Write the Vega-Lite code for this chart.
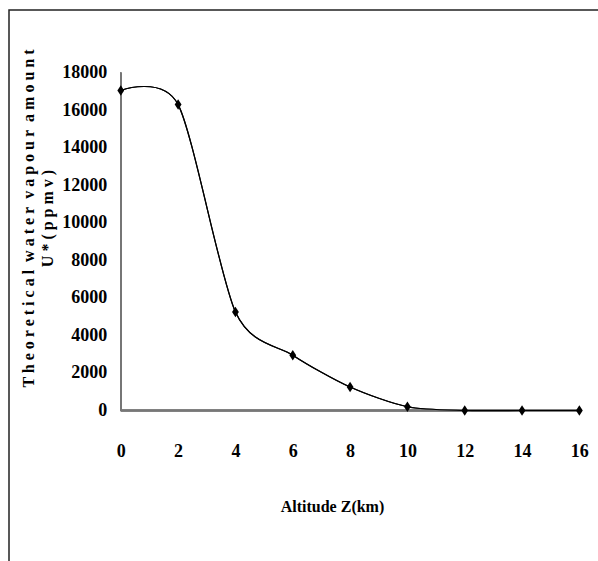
{
  "$schema": "https://vega.github.io/schema/vega-lite/v6.json",
  "width": 592,
  "height": 560,
  "autosize": {"type": "none"},
  "padding": {"left": 9, "top": 10, "right": 0, "bottom": 0},
  "background": "white",
  "data": {
    "values": [
      {"z": 0, "u": 17050},
      {"z": 2, "u": 16300},
      {"z": 4, "u": 5250},
      {"z": 6, "u": 2950},
      {"z": 8, "u": 1250},
      {"z": 10, "u": 200},
      {"z": 12, "u": 0},
      {"z": 14, "u": 0},
      {"z": 16, "u": 0}
    ]
  },
  "layer": [
    {
      "mark": {"type": "line", "interpolate": "cardinal", "tension": 0.2, "color": "black", "strokeWidth": 1.2},
      "encoding": {
        "x": {
          "field": "z", "type": "quantitative",
          "scale": {"domain": [-3.901, 16.755], "nice": false, "zero": false},
          "axis": {
            "orient": "bottom",
            "offset": -159.5,
            "values": [0, 2, 4, 6, 8, 10, 12, 14, 16],
            "format": "d",
            "domain": false, "ticks": false, "grid": false,
            "labelPadding": 32,
            "labelFlush": false,
            "title": "Altitude Z(km)",
            "titleFontSize": 16,
            "titleX": 323,
            "titleY": 88,
            "titleBaseline": "top"
          }
        },
        "y": {
          "field": "u", "type": "quantitative",
          "scale": {"domain": [-8499, 21341], "nice": false, "zero": false},
          "axis": {
            "orient": "left",
            "offset": -111.8,
            "values": [0, 2000, 4000, 6000, 8000, 10000, 12000, 14000, 16000, 18000],
            "format": "d",
            "domain": false, "ticks": false, "grid": false,
            "labelPadding": 14,
            "labelFlush": false,
            "title": ["T h e o r e t i c a l\u00a0 w a t e r\u00a0 v a p o u r\u00a0 a m o u n t", "U * ( p p m v )"],
            "titleFontSize": 16,
            "titleLineHeight": 19,
            "titleBaseline": "middle",
            "titleX": -92.5,
            "titleY": 208
          }
        }
      }
    },
    {
      "mark": {"type": "rule", "color": "#777777", "strokeWidth": 1.5},
      "encoding": {
        "x": {"datum": 0},
        "y": {"datum": 0},
        "y2": {"datum": 18000}
      }
    },
    {
      "mark": {"type": "rule", "color": "#777777", "strokeWidth": 1.5},
      "encoding": {
        "y": {"datum": 0},
        "x": {"datum": 0},
        "x2": {"datum": 16}
      }
    },
    {
      "mark": {"type": "line", "interpolate": "cardinal", "tension": 0.2, "color": "black", "strokeWidth": 1.2},
      "encoding": {
        "x": {"field": "z", "type": "quantitative"},
        "y": {"field": "u", "type": "quantitative"}
      }
    },
    {
      "mark": {"type": "point", "shape": "M0,-1L0.65,0L0,1L-0.65,0Z", "filled": true, "color": "black", "size": 110, "opacity": 1},
      "encoding": {
        "x": {"field": "z", "type": "quantitative"},
        "y": {"field": "u", "type": "quantitative"}
      }
    }
  ],
  "config": {
    "view": {"stroke": "#222222", "strokeWidth": 1.5},
    "axis": {
      "labelFont": "Liberation Serif",
      "labelFontWeight": "bold",
      "labelFontSize": 18,
      "labelColor": "black",
      "labelOverlap": false,
      "titleFont": "Liberation Serif",
      "titleFontWeight": "bold",
      "titleColor": "black"
    }
  }
}
